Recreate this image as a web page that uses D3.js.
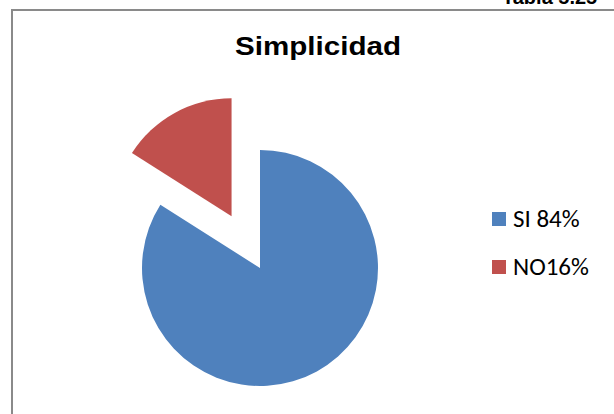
<!DOCTYPE html>
<html>
<head>
<meta charset="utf-8">
<script src="https://cdn.jsdelivr.net/npm/d3@7"></script>
<style>
  html, body { margin: 0; padding: 0; background: #fff; }
  svg { display: block; }
</style>
</head>
<body>
<svg id="chart" width="614" height="414"></svg>
<script>
const categories = ["SI", "NO"];
const values = [84, 16];
const legendLabels = ["SI 84%", "NO16%"];
const colors = ["#4F81BD", "#C0504D"];
const explode = [0, 59];
const title = "Simplicidad";
const caption = "Tabla 5.25";

const svg = d3.select("#chart");

// caption (cut at top, as in the reference)
svg.append("text")
  .attr("x", 502).attr("y", 4)
  .attr("font-family", "Liberation Sans, Arial, sans-serif")
  .attr("font-weight", "bold").attr("font-size", 20)
  .attr("fill", "#000")
  .text(caption);

// frame
svg.append("rect")
  .attr("x", 12).attr("y", 10)
  .attr("width", 640).attr("height", 440)
  .attr("fill", "#fff")
  .attr("stroke", "#8a8a8a").attr("stroke-width", 2);

// title
svg.append("text")
  .attr("x", 318).attr("y", 55)
  .attr("text-anchor", "middle")
  .attr("font-family", "Liberation Sans, Arial, sans-serif")
  .attr("font-weight", "bold").attr("font-size", 25)
  .attr("textLength", 166).attr("lengthAdjust", "spacingAndGlyphs")
  .attr("fill", "#000")
  .text(title);

// pie
const cx = 260, cy = 268, r = 118;
const pie = d3.pie().sort(null).value(d => d)(values);
const arc = d3.arc().innerRadius(0).outerRadius(r);
const g = svg.append("g").attr("transform", `translate(${cx},${cy})`);
g.selectAll("path").data(pie).join("path")
  .attr("d", arc)
  .attr("fill", (d, i) => colors[i])
  .attr("transform", (d, i) => {
    const a = (d.startAngle + d.endAngle) / 2;
    return `translate(${Math.sin(a) * explode[i]},${-Math.cos(a) * explode[i]})`;
  });

// legend
const legendY = d3.scalePoint().domain(categories).range([212, 260]);
const lg = svg.append("g");
categories.forEach((c, i) => {
  lg.append("rect")
    .attr("x", 492).attr("y", legendY(c))
    .attr("width", 14).attr("height", 14)
    .attr("fill", colors[i]);
  lg.append("text")
    .attr("x", 513).attr("y", legendY(c) + 15)
    .attr("font-family", "Carlito, Lato, sans-serif")
    .attr("font-size", 25)
    .attr("fill", "#000")
    .text(legendLabels[i]);
});
</script>
</body>
</html>
